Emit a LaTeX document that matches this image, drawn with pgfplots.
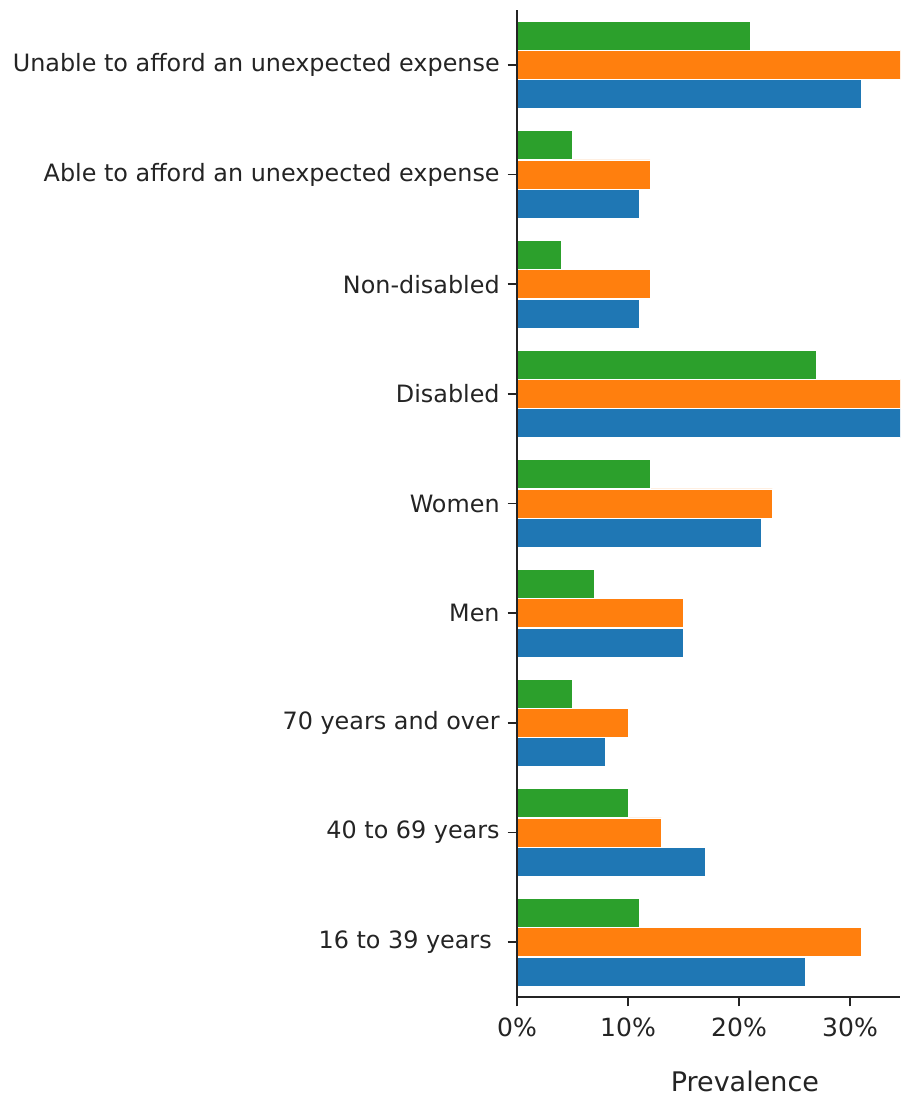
\documentclass[border=0pt]{standalone}
\usepackage{pgfplots}
\pgfplotsset{compat=1.18}
\usepackage{fontspec}
\setmainfont{DejaVu Sans}

\definecolor{sblue}{HTML}{1F77B4}
\definecolor{sorange}{HTML}{FF7F0E}
\definecolor{sgreen}{HTML}{2CA02C}
\definecolor{ink}{RGB}{36,36,36}

% rows: 0 = 16 to 39 years ... 8 = unable to afford an unexpected expense
\pgfplotstableread{
pos blue orange green
0 26 31 11
1 17 13 10
2 8 10 5
3 15 15 7
4 22 23 12
5 40 40 27
6 11 12 4
7 11 12 5
8 31 40 21
}\prevalence

\begin{document}
\begin{tikzpicture}[x=0.75pt,y=0.75pt]
\begin{axis}[
    at={(517*0.75pt,101*0.75pt)}, anchor=south west,
    scale only axis,
    width=383*0.75pt, height=987*0.75pt,
    xbar, bar width=0.265,
    xmin=0, xmax=34.5,
    ymin=-0.5, ymax=8.5,
    axis on top,
    axis lines*=left,
    axis line style={ink, line width=1.2pt},
    tick style={ink, line width=1.2pt},
    tick align=outside,
    major tick length=7pt,
    xtick={0,10,20,30},
    xticklabels={0\%,10\%,20\%,30\%},
    ytick={0,...,8},
    yticklabels={16 to 39 years\kern0.33em,40 to 69 years,70 years and over,Men,Women,Disabled,Non-disabled,Able to afford an unexpected expense,Unable to afford an unexpected expense},
    ticklabel style={text=ink},
    yticklabel style={font=\fontsize{17.9}{20}\selectfont, xshift=-2.5pt},
    xticklabel style={font=\fontsize{18.8}{20}\selectfont, yshift=-5pt},
    xlabel={Prevalence},
    xlabel style={font=\fontsize{20.25}{24}\selectfont, text=ink, at={(axis description cs:0.595,0)}, anchor=north, yshift=-52pt},
    every axis plot/.append style={draw=white, line width=0.6pt},
]
\addplot[fill=sblue, bar shift=-0.267] table[x=blue, y=pos] {\prevalence};
\addplot[fill=sorange, bar shift=0] table[x=orange, y=pos] {\prevalence};
\addplot[fill=sgreen, bar shift=0.267] table[x=green, y=pos] {\prevalence};
\end{axis}
\pgfresetboundingbox
\path[use as bounding box] (0,0) rectangle (900,1098);
\end{tikzpicture}
\end{document}
